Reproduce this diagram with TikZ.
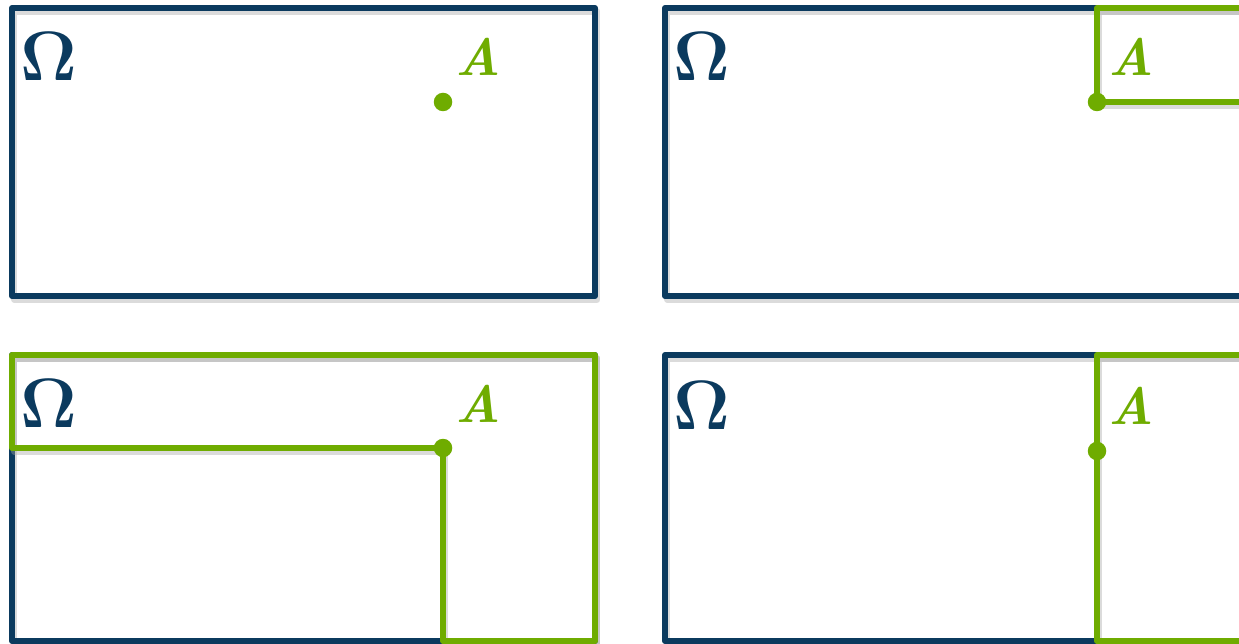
\documentclass[tikz,border=0pt]{standalone}
\usepackage{tikz}
\usepackage{xcolor}
\usetikzlibrary{positioning}

\definecolor{omegablue}{HTML}{0B3A5E}
\definecolor{setgreen}{HTML}{6FAC00}

\begin{document}
\begin{tikzpicture}[
x=0.02cm, y=-0.02cm,
line join=round,
shadowed/.style={
preaction={draw=black!35, opacity=0.4, line width=3.6pt,
transform canvas={xshift=1.3pt,yshift=-2pt}}
},
omega/.style={
draw=omegablue,
line width=3.4pt,
shadowed
},
region/.style={
draw=setgreen,
line width=3.4pt,
shadowed
},
dot/.style={
circle,
fill=setgreen,
inner sep=0pt,
minimum size=0.37cm
},
omegalabel/.style={
text=omegablue,
font=\Huge\bfseries,
scale=1.6
},
alabel/.style={
text=setgreen,
font=\Huge\bfseries\itshape,
scale=1.2
}
]

\useasboundingbox (0,0) rectangle (1239,644);
\clip (0,0) rectangle (1239,644);

% top left: the point alone
\draw[omega] (12,8) rectangle (595,296);
\node[omegalabel] (om1) at (49,57) {$\mathbf{\Omega}$};
\node[alabel] (lA1) at (478,57) {A};
\node[dot] (A1) at (443,102) {};

% top right: up and to the right
\draw[omega] (665,8) rectangle (1270,296);
\node[omegalabel] (om2) at (702,57) {$\mathbf{\Omega}$};
\node[alabel] (lA2) at (1131,57) {A};
\coordinate (A2) at (1097,102);
\draw[region] (A2) -- (1097,8) -- (1270,8) -- (1270,102) -- cycle;
\node[dot] (d2) at (A2) {};

% bottom left: complement shape
\draw[omega] (12,355) rectangle (595,641);
\node[omegalabel] (om3) at (49,404) {$\mathbf{\Omega}$};
\node[alabel] (lA3) at (478,404) {A};
\coordinate (A3) at (443,448);
\draw[region] (A3) -- (12,448) -- (12,355) -- (595,355)
-- (595,641) -- (443,641) -- cycle;
\node[dot] (d3) at (A3) {};

% bottom right: whole strip to the right
\draw[omega] (665,355) rectangle (1270,641);
\node[omegalabel] (om4) at (702,406) {$\mathbf{\Omega}$};
\node[alabel] (lA4) at (1131,406) {A};
\coordinate (A4) at (1097,451);
\draw[region] (1097,641) -- (1097,355) -- (1270,355) -- (1270,641) -- cycle;
\node[dot] (d4) at (A4) {};

\end{tikzpicture}
\end{document}
